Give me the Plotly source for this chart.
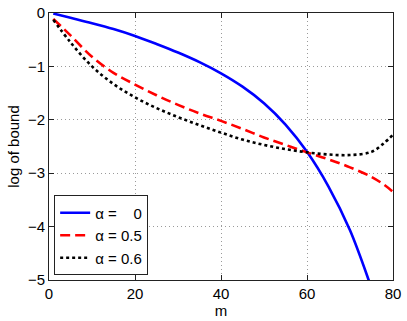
import plotly.graph_objects as go

# values
m = [1, 5, 10, 15, 20, 25, 30, 35, 40, 45, 50, 55, 60, 65, 70, 75, 78, 80]
bound_a0 = [-0.01, -0.09, -0.19, -0.30, -0.43, -0.58, -0.74, -0.92, -1.13, -1.38,
            -1.69, -2.09, -2.60, -3.25, -4.07, -5.15, -5.85, -6.35]
bound_a05 = [-0.11, -0.42, -0.82, -1.12, -1.34, -1.54, -1.72, -1.88, -2.02, -2.17,
             -2.33, -2.47, -2.61, -2.74, -2.89, -3.07, -3.22, -3.35]
bound_a06 = [-0.125, -0.55, -1.00, -1.33, -1.58, -1.78, -1.95, -2.10, -2.24, -2.37,
             -2.47, -2.55, -2.61, -2.65, -2.66, -2.60, -2.43, -2.28]
names = ['\u03b1 = \u2007\u20080', '\u03b1 = 0.5', '\u03b1 = 0.6']

x_ticks = [0, 20, 40, 60, 80]
y_ticks = [0, -1, -2, -3, -4, -5]

fig = go.Figure()
fig.add_trace(go.Scatter(x=m, y=bound_a0, mode='lines', name=names[0],
                         line=dict(color='#0000ff', width=2.6, shape='spline')))
fig.add_trace(go.Scatter(x=m, y=bound_a05, mode='lines', name=names[1],
                         line=dict(color='#ff0000', width=2.6, shape='spline', dash='10px,5px')))
fig.add_trace(go.Scatter(x=m, y=bound_a06, mode='lines', name=names[2],
                         line=dict(color='#000000', width=2.6, shape='spline', dash='3px,3px')))

axis_style = dict(showgrid=True, gridcolor='#9a9a9a', griddash='1px,3px', gridwidth=1,
                  showline=True, linecolor='#222222', linewidth=1, mirror='ticks',
                  ticks='inside', ticklen=5, tickcolor='#222222', zeroline=False,
                  tickfont=dict(size=15), automargin=False, ticklabeloverflow='allow')

fig.update_xaxes(range=[0, 80], tickvals=x_ticks,
                 title=dict(text='m', standoff=2, font=dict(size=15)), **axis_style)
fig.update_yaxes(range=[-5, 0], tickvals=y_ticks,
                 title=dict(text='log of bound', standoff=4, font=dict(size=15)), **axis_style)

fig.update_layout(
    width=407, height=321,
    margin=dict(l=49, r=14, t=13, b=41),
    plot_bgcolor='white', paper_bgcolor='white',
    font=dict(family='Liberation Sans, Arial, sans-serif', size=15, color='black'),
    legend=dict(x=0.015, y=0.017, xanchor='left', yanchor='bottom',
                bgcolor='white', bordercolor='#222222', borderwidth=1,
                font=dict(size=15), tracegroupgap=0),
)

# drop the default 8px body margin so the figure fills the window
fig.write_html("out.html", config={'displayModeBar': False},
               post_script="document.body.style.margin='0px';")
